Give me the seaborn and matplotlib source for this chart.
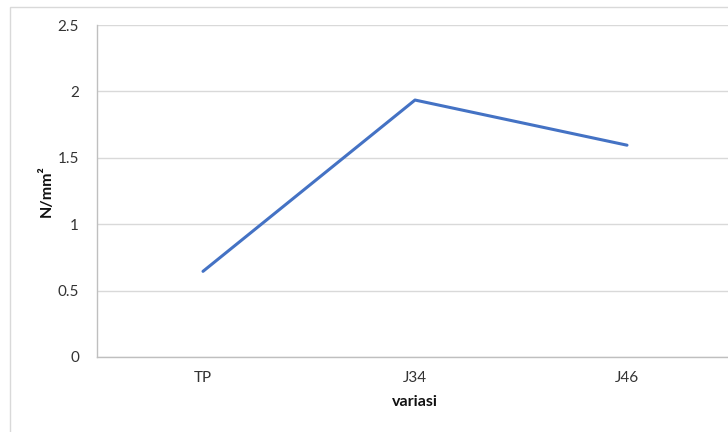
import pandas as pd
import seaborn as sns
import matplotlib.pyplot as plt
from matplotlib.patches import Rectangle

# data
variasi = ["TP", "J34", "J46"]
kuat = [0.645, 1.935, 1.595]
yticks = [0, 0.5, 1, 1.5, 2, 2.5]
ytick_labels = ["0", "0.5", "1", "1.5", "2", "2.5"]

df = pd.DataFrame({"variasi": variasi, "kuat": kuat})

sns.set_style("white")
plt.rcParams["font.family"] = ["Lato", "DejaVu Sans"]

fig = plt.figure(figsize=(7.28, 4.32), dpi=100)
# outer chart border (Excel style)
fig.patches.append(Rectangle((10 / 728, -0.1), 1.0, 1.1 - 7 / 432, transform=fig.transFigure,
                             fill=False, edgecolor="#d9d9d9", linewidth=1))

ax = fig.add_axes([97 / 728, 75 / 432, 636 / 728, 332 / 432])
sns.lineplot(data=df, x="variasi", y="kuat", ax=ax, color="#4472C4", linewidth=2.2, sort=False)

ax.set_xlim(-0.5, 2.5)
ax.set_ylim(0, 2.5)
ax.set_yticks(yticks)
ax.set_yticklabels(ytick_labels)
ax.yaxis.grid(True, color="#d9d9d9", linewidth=1)
ax.set_axisbelow(True)

for s in ["top", "right"]:
    ax.spines[s].set_visible(False)
ax.spines["left"].set_color("#bfbfbf")
ax.spines["bottom"].set_color("#bfbfbf")
ax.spines["left"].set_linewidth(1)
ax.spines["bottom"].set_linewidth(1)

ax.tick_params(axis="y", length=5, color="#bfbfbf", width=1, pad=8, labelsize=11, labelcolor="#333333")
ax.tick_params(axis="x", length=0, pad=10, labelsize=11, labelcolor="#333333")

ax.set_xlabel("variasi", fontsize=11.5, fontweight="bold", color="#111111", labelpad=7)
ax.set_ylabel("N/mm²", fontsize=11.5, fontweight="bold", color="#111111", labelpad=3)

fig.savefig("out.png", dpi=100)
